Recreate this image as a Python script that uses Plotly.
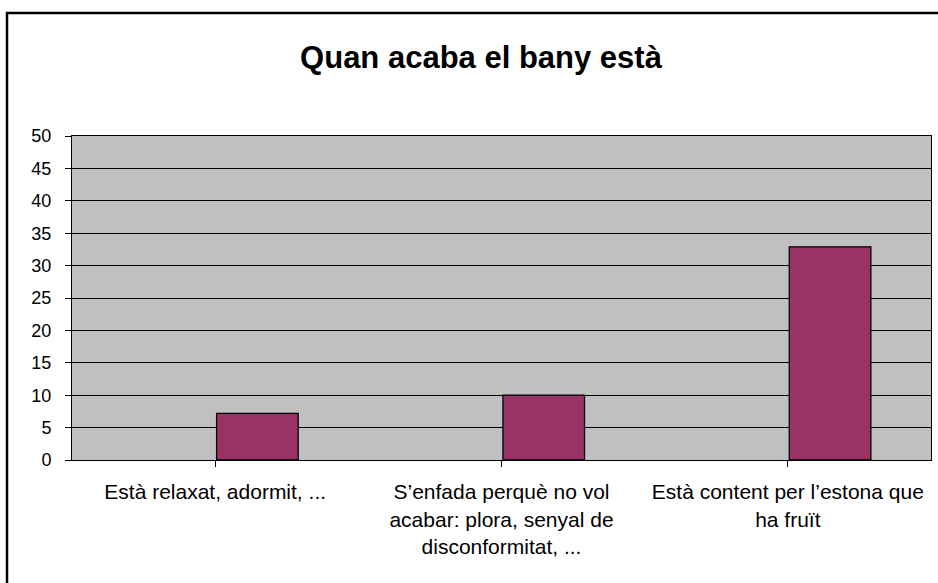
import plotly.graph_objects as go

categories = ["Està relaxat, adormit, ...",
              "S’enfada perquè no vol<br>acabar: plora, senyal de<br>disconformitat, ...",
              "Està content per l’estona que<br>ha fruït"]
values = [7.2, 10, 32.9]
y_ticks = list(range(0, 51, 5))

W, H = 938, 583
ml, mr, mt, mb = 72, 7, 136, 123
pw, ph = W - ml - mr, H - mt - mb

def px_x(x):
    return (x - ml) / pw

def px_y(y):
    return (H - mb - y) / ph

FONT = "Liberation Sans, Arial, sans-serif"

fig = go.Figure()
fig.add_trace(go.Bar(
    x=[0, 1, 2], y=values,
    width=0.285, offset=0.005,
    marker=dict(color="#993366", line=dict(color="black", width=1.3)),
))

fig.update_layout(
    width=W, height=H,
    margin=dict(l=ml, r=mr, t=mt, b=mb, pad=0),
    paper_bgcolor="white", plot_bgcolor="#C0C0C0",
    showlegend=False,
    font=dict(family=FONT, color="black"),
    title=dict(text="<b>Quan acaba el bany està</b>", x=(481 - 0) / W, xanchor="center",
               y=1 - 57 / H, yanchor="middle",
               font=dict(size=31, family=FONT, color="black")),
    xaxis=dict(range=[-0.5, 2.5], tickmode="array", tickvals=[0, 1, 2], ticktext=categories,
               showgrid=False, showline=True, linecolor="black", linewidth=1, mirror=True,
               ticks="outside", ticklen=6, tickcolor="black", tickson="boundaries",
               tickfont=dict(size=21), ticklabelstandoff=7, zeroline=False),
    yaxis=dict(range=[0, 50], tickvals=y_ticks, showgrid=True, gridcolor="black", gridwidth=1,
               showline=True, linecolor="black", linewidth=1, mirror=True,
               ticks="outside", ticklen=6, tickcolor="black", tickfont=dict(size=18),
               ticklabelstandoff=10, zeroline=False),
    shapes=[dict(type="rect", xref="paper", yref="paper",
                 x0=px_x(7), x1=px_x(W + 10),
                 y0=px_y(H + 10), y1=px_y(13),
                 line=dict(color="black", width=2.5), fillcolor="rgba(0,0,0,0)", layer="above")],
)

fig.write_html("out.html", config={"displayModeBar": False})

with open("out.html", encoding="utf-8") as f:
    html = f.read()
html = html.replace("<head>", "<head><style>html,body{margin:0;padding:0;overflow:hidden;}</style>", 1)
with open("out.html", "w", encoding="utf-8") as f:
    f.write(html)
